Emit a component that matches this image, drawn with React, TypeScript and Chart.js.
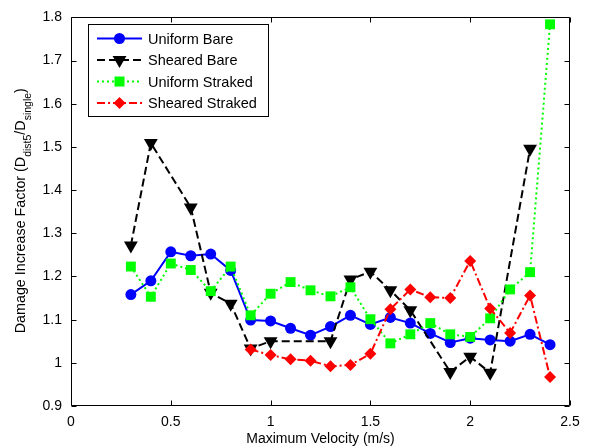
import React, { useEffect, useRef } from 'react';
import { Chart, registerables } from 'chart.js';

Chart.register(...registerables);

const velocities = [0.3, 0.4, 0.5, 0.6, 0.7, 0.8, 0.9, 1.0, 1.1, 1.2, 1.3, 1.4, 1.5, 1.6, 1.7, 1.8, 1.9, 2.0, 2.1, 2.2, 2.3, 2.4];
const uniformBare = [1.158, 1.19, 1.257, 1.248, 1.252, 1.214, 1.099, 1.097, 1.08, 1.064, 1.084, 1.11, 1.089, 1.105, 1.092, 1.068, 1.047, 1.057, 1.053, 1.05, 1.066, 1.042];
const uniformStraked = [1.223, 1.153, 1.23, 1.215, 1.166, 1.223, 1.11, 1.16, 1.187, 1.168, 1.154, 1.175, 1.101, 1.045, 1.066, 1.092, 1.066, 1.06, 1.103, 1.17, 1.21, 1.784];
const shearedBareX = [0.3, 0.4, 0.6, 0.7, 0.8, 0.9, 1.0, 1.3, 1.4, 1.5, 1.6, 1.7, 1.9, 2.0, 2.1, 2.3];
const shearedBare = [1.272, 1.509, 1.36, 1.162, 1.137, 1.033, 1.05, 1.05, 1.193, 1.211, 1.168, 1.122, 0.979, 1.014, 0.977, 1.496];
const shearedStrakedX = [0.9, 1.0, 1.1, 1.2, 1.3, 1.4, 1.5, 1.6, 1.7, 1.8, 1.9, 2.0, 2.1, 2.2, 2.3, 2.4];
const shearedStraked = [1.031, 1.018, 1.008, 1.005, 0.992, 0.995, 1.021, 1.124, 1.17, 1.152, 1.15, 1.236, 1.126, 1.069, 1.156, 0.967];

const xTicks = [0, 0.5, 1, 1.5, 2, 2.5];
const yTicks = [0.9, 1, 1.1, 1.2, 1.3, 1.4, 1.5, 1.6, 1.7, 1.8];

const FONT = '"Liberation Sans", Arial, sans-serif';

const pairs = (xs: number[], ys: number[]) => xs.map((x, i) => ({ x, y: ys[i] }));

type Spec = { label: string; color: string; dash: number[]; marker: string };
const specs: Spec[] = [
  { label: 'Uniform Bare', color: '#0000ff', dash: [], marker: 'circle' },
  { label: 'Sheared Bare', color: '#000000', dash: [8, 4], marker: 'tri' },
  { label: 'Uniform Straked', color: '#00ff00', dash: [2, 3], marker: 'square' },
  { label: 'Sheared Straked', color: '#ff0000', dash: [8, 3, 2, 3], marker: 'diamond' },
];

function drawMarker(ctx: CanvasRenderingContext2D, kind: string, x: number, y: number, color: string) {
  ctx.save();
  ctx.fillStyle = color;
  ctx.setLineDash([]);
  ctx.beginPath();
  if (kind === 'circle') {
    ctx.arc(x, y, 5.5, 0, Math.PI * 2);
  } else if (kind === 'tri') {
    const r = 8;
    ctx.moveTo(x - r * Math.sin(Math.PI / 3), y - r / 2);
    ctx.lineTo(x + r * Math.sin(Math.PI / 3), y - r / 2);
    ctx.lineTo(x, y + r);
    ctx.closePath();
  } else if (kind === 'square') {
    ctx.rect(x - 5, y - 5, 10, 10);
  } else {
    ctx.moveTo(x, y - 6);
    ctx.lineTo(x + 6, y);
    ctx.lineTo(x, y + 6);
    ctx.lineTo(x - 6, y);
    ctx.closePath();
  }
  ctx.fill();
  ctx.restore();
}

const framePlugin = {
  id: 'frame',
  afterDraw(chart: any) {
    const ctx: CanvasRenderingContext2D = chart.ctx;
    const { left, right, top, bottom } = chart.chartArea;
    const xs = chart.scales.x;
    const ys = chart.scales.y;
    ctx.save();
    ctx.strokeStyle = '#000';
    ctx.lineWidth = 1;
    ctx.setLineDash([]);
    const L = Math.round(left) + 0.5;
    const R = Math.round(right) - 0.5;
    const T = Math.round(top) + 0.5;
    const B = Math.round(bottom) - 0.5;
    ctx.beginPath();
    ctx.rect(L, T, R - L, B - T);
    ctx.stroke();
    ctx.beginPath();
    xTicks.forEach((v) => {
      const px = Math.round(xs.getPixelForValue(v)) + 0.5;
      ctx.moveTo(px, B);
      ctx.lineTo(px, B - 5);
      ctx.moveTo(px, T);
      ctx.lineTo(px, T + 5);
    });
    yTicks.forEach((v) => {
      const py = Math.round(ys.getPixelForValue(v)) + 0.5;
      ctx.moveTo(L, py);
      ctx.lineTo(L + 5, py);
      ctx.moveTo(R, py);
      ctx.lineTo(R - 5, py);
    });
    ctx.stroke();

    // legend
    const lx = 88, ly = 24, lw = 180, lh = 92;
    ctx.fillStyle = '#fff';
    ctx.fillRect(lx, ly, lw, lh);
    ctx.strokeRect(lx + 0.5, ly + 0.5, lw, lh);
    const rows = [38.5, 60, 81.5, 103];
    ctx.font = `14.5px ${FONT}`;
    ctx.textBaseline = 'middle';
    ctx.textAlign = 'left';
    specs.forEach((s, i) => {
      const yy = rows[i];
      ctx.save();
      ctx.strokeStyle = s.color;
      ctx.lineWidth = 2;
      ctx.setLineDash(s.dash);
      ctx.beginPath();
      ctx.moveTo(97, yy);
      ctx.lineTo(142, yy);
      ctx.stroke();
      ctx.restore();
      drawMarker(ctx, s.marker, 119.5, yy, s.color);
      ctx.fillStyle = '#000';
      ctx.fillText(s.label, 148, yy + 1);
    });

    // y axis title with subscripts
    const cy = (top + bottom) / 2 - 1;
    ctx.translate(25, cy);
    ctx.rotate(-Math.PI / 2);
    const parts: [string, boolean][] = [
      ['Damage Increase Factor (D', false],
      ['dist5', true],
      ['/D', false],
      ['single', true],
      [')', false],
    ];
    const big = `14.3px ${FONT}`;
    const small = `10.5px ${FONT}`;
    let total = 0;
    parts.forEach(([t, sub]) => {
      ctx.font = sub ? small : big;
      total += ctx.measureText(t).width;
    });
    let x = -total / 2;
    ctx.textBaseline = 'alphabetic';
    ctx.fillStyle = '#000';
    parts.forEach(([t, sub]) => {
      ctx.font = sub ? small : big;
      ctx.fillText(t, x, sub ? 6 : 0);
      x += ctx.measureText(t).width;
    });
    ctx.restore();
  },
};

export default function App() {
  const ref = useRef<HTMLCanvasElement | null>(null);
  useEffect(() => {
    document.body.style.margin = '0';
    const canvas = ref.current!;
    const mk = (i: number, data: { x: number; y: number }[], pointStyle: string, radius: number, rotation = 0) => ({
      label: specs[i].label,
      data,
      borderColor: specs[i].color,
      backgroundColor: specs[i].color,
      borderWidth: 2,
      borderDash: specs[i].dash,
      pointStyle,
      pointRadius: radius,
      pointRotation: rotation,
      pointBorderWidth: 0,
      pointBackgroundColor: specs[i].color,
      tension: 0,
      fill: false,
      clip: false as any,
      order: 3 - i,
    });
    const chart = new Chart(canvas, {
      type: 'line',
      data: {
        datasets: [
          mk(0, pairs(velocities, uniformBare), 'circle', 5.5),
          mk(1, pairs(shearedBareX, shearedBare), 'triangle', 8, 180),
          mk(2, pairs(velocities, uniformStraked), 'rect', 7),
          mk(3, pairs(shearedStrakedX, shearedStraked), 'rectRot', 6),
        ] as any,
      },
      options: {
        animation: false,
        responsive: false,
        maintainAspectRatio: false,
        devicePixelRatio: 1,
        layout: { padding: { left: 0, right: 19, top: 13, bottom: 0 } },
        plugins: { legend: { display: false }, tooltip: { enabled: false } },
        scales: {
          x: {
            type: 'linear',
            min: 0,
            max: 2.5,
            afterFit: (s: any) => { s.height = 42; },
            afterBuildTicks: (s: any) => { s.ticks = xTicks.map((v) => ({ value: v })); },
            grid: { display: false, drawTicks: false },
            border: { display: false },
            title: { display: true, text: 'Maximum Velocity (m/s)', color: '#000', font: { family: FONT, size: 14 }, padding: { top: 2, bottom: 0 } },
            ticks: { color: '#000', font: { family: FONT, size: 14 }, padding: 8, maxRotation: 0, callback: (v: any) => String(v) },
          },
          y: {
            type: 'linear',
            min: 0.9,
            max: 1.8,
            afterFit: (s: any) => { s.width = 71; },
            afterBuildTicks: (s: any) => { s.ticks = yTicks.map((v) => ({ value: v })); },
            grid: { display: false, drawTicks: false },
            border: { display: false },
            ticks: { color: '#000', font: { family: FONT, size: 14 }, padding: 9, callback: (v: any) => (Number.isInteger(v) ? String(v) : Number(v).toFixed(1)) },
          },
        },
      } as any,
      plugins: [framePlugin],
    });
    return () => chart.destroy();
  }, []);
  return (
    <div style={{ position: 'absolute', left: 0, top: 0, width: 589, height: 448, background: '#fff' }}>
      <canvas ref={ref} width={589} height={448} style={{ width: 589, height: 448, display: 'block' }} />
    </div>
  );
}
